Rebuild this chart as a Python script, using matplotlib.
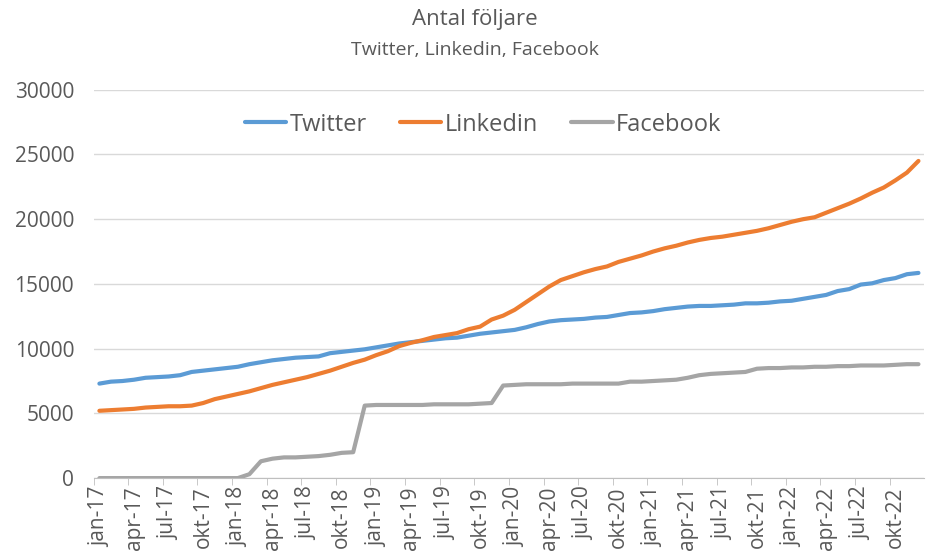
import matplotlib
matplotlib.use("Agg")
import matplotlib.pyplot as plt
import matplotlib.ticker as pltick

plt.rcParams['font.family'] = ['Open Sans', 'DejaVu Sans']

# Monthly follower counts, jan-17 .. dec-22
months = ['jan', 'feb', 'mar', 'apr', 'maj', 'jun', 'jul', 'aug', 'sep', 'okt', 'nov', 'dec']
years = ['17', '18', '19', '20', '21', '22']
labels = [m + '-' + y for y in years for m in months]

twitter = [7300, 7450, 7500, 7600, 7750, 7800, 7850, 7950, 8200, 8300, 8400, 8500,
           8600, 8800, 8950, 9100, 9200, 9300, 9350, 9400, 9650, 9750, 9850, 9950,
           10100, 10250, 10400, 10500, 10600, 10700, 10800, 10850, 11000, 11150, 11250, 11350,
           11450, 11650, 11900, 12100, 12200, 12250, 12300, 12400, 12450, 12600, 12750, 12800,
           12900, 13050, 13150, 13250, 13300, 13300, 13350, 13400, 13500, 13500, 13550, 13650,
           13700, 13850, 14000, 14150, 14450, 14600, 14950, 15050, 15300, 15450, 15750, 15850]

linkedin = [5200, 5250, 5300, 5350, 5450, 5500, 5550, 5550, 5600, 5800, 6100, 6300,
            6500, 6700, 6950, 7200, 7400, 7600, 7800, 8050, 8300, 8600, 8900, 9150,
            9500, 9800, 10200, 10450, 10650, 10900, 11050, 11200, 11500, 11700, 12250, 12550,
            13000, 13600, 14200, 14800, 15300, 15600, 15900, 16150, 16350, 16700, 16950, 17200,
            17500, 17750, 17950, 18200, 18400, 18550, 18650, 18800, 18950, 19100, 19300, 19550,
            19800, 20000, 20150, 20500, 20850, 21200, 21600, 22050, 22450, 23000, 23600, 24500]

facebook = [0, 0, 0, 0, 0, 0, 0, 0, 0, 0, 0, 0,
            0, 300, 1300, 1500, 1600, 1600, 1650, 1700, 1800, 1950, 2000, 5600,
            5650, 5650, 5650, 5650, 5650, 5700, 5700, 5700, 5700, 5750, 5800, 7150,
            7200, 7250, 7250, 7250, 7250, 7300, 7300, 7300, 7300, 7300, 7450, 7450,
            7500, 7550, 7600, 7750, 7950, 8050, 8100, 8150, 8200, 8450, 8500, 8500,
            8550, 8550, 8600, 8600, 8650, 8650, 8700, 8700, 8700, 8750, 8800, 8800]

text_col = '#595959'
x = range(len(labels))

fig = plt.figure(figsize=(9.27, 5.54), dpi=100)
ax = fig.add_axes([0.101, 0.137, 0.896, 0.701])

ax.plot(x, twitter, color='#5B9BD5', lw=3, label='Twitter', solid_capstyle='round')
ax.plot(x, linkedin, color='#ED7D31', lw=3, label='Linkedin', solid_capstyle='round')
ax.plot(x, facebook, color='#A5A5A5', lw=3, label='Facebook', solid_capstyle='round')

ax.set_xlim(-0.5, len(labels) - 0.5)
ax.set_ylim(0, 30000)
ax.yaxis.set_major_locator(pltick.MultipleLocator(5000))
ax.grid(axis='y', color='#D9D9D9', lw=1)
ax.set_axisbelow(True)

# labels every third month, tick marks on slot borders
ax.set_xticks(list(x)[::3])
ax.set_xticklabels(labels[::3], rotation=90)
ax.set_xticks([i - 0.5 for i in list(x)[::3]], minor=True)
ax.tick_params(axis='x', which='major', length=0, pad=6, labelsize=15, labelcolor=text_col)
ax.tick_params(axis='x', which='minor', length=5, color='#BFBFBF')
ax.tick_params(axis='y', length=0, pad=14, labelsize=15, labelcolor=text_col)

for s in ['left', 'right', 'top']:
    ax.spines[s].set_visible(False)
ax.spines['bottom'].set_color('#BFBFBF')

fig.text(0.512, 0.964, 'Antal följare', ha='center', va='center', fontsize=16, color=text_col)
fig.text(0.512, 0.91, 'Twitter, Linkedin, Facebook', ha='center', va='center', fontsize=14, color=text_col)

leg = ax.legend(loc='center', bbox_to_anchor=(0.469, 0.91), ncol=3, frameon=False,
                fontsize=17, handlelength=1.75, handletextpad=0.15, columnspacing=1.4,
                labelcolor=text_col)

fig.savefig('out.png', dpi=100)
